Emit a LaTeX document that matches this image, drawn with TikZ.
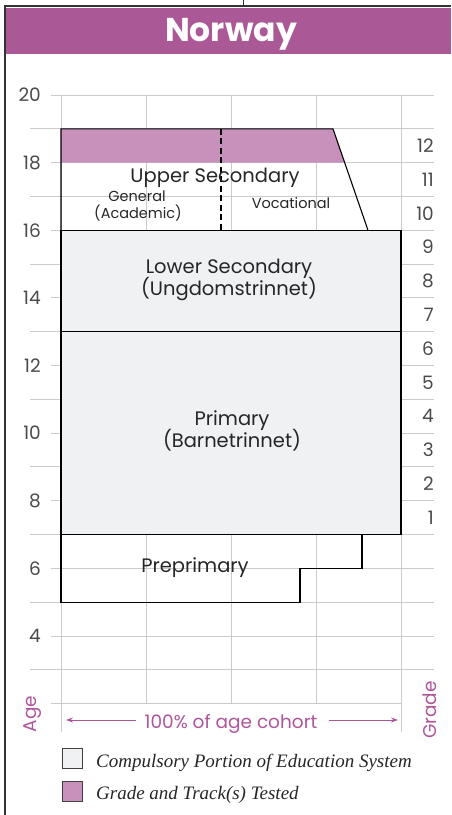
\documentclass[tikz,border=0pt]{standalone}
\usepackage{fontspec}
\setmainfont{Liberation Serif}
\newfontfamily\geo{Poppins}
\usetikzlibrary{arrows.meta}

\definecolor{hdr}{HTML}{AB5897}
\definecolor{tested}{HTML}{C891BC}
\definecolor{comp}{HTML}{F0F1F3}
\definecolor{gridc}{HTML}{CBCBCB}
\definecolor{numc}{HTML}{4A4A4A}
\definecolor{ptext}{HTML}{B0559B}
\definecolor{framec}{HTML}{333333}

\tikzset{
  gridline/.style={draw=gridc, line width=0.9pt},
  region/.style={draw=black, line width=1.1pt},
  numlabel/.style={anchor=east, inner sep=0pt, text=numc, font=\geo\fontsize{18.5}{18.5}\selectfont},
  stagelabel/.style={anchor=base, inner sep=0pt, text=black!85, font=\geo\fontsize{19.5}{19.5}\selectfont},
  tracklabel/.style={anchor=base, inner sep=0pt, text=black!85, font=\geo\fontsize{14.5}{14.5}\selectfont},
  axislabel/.style={inner sep=0pt, text=ptext, font=\geo\fontsize{18.5}{18.5}\selectfont},
  legbox/.style={draw=black!75, line width=0.9pt, minimum width=20pt, minimum height=20pt, inner sep=0pt},
  legtext/.style={anchor=base west, inner sep=0pt, text=black!85, font=\itshape\fontsize{19}{19}\selectfont},
  cohortarrow/.style={draw=ptext, line width=1pt, -{Stealth[length=7pt,width=5pt]}}
}

\begin{document}
\begin{tikzpicture}[x=1pt, y=1pt]
\useasboundingbox (0,0) rectangle (451,-815);

% page frame and title band
\fill[hdr] (6,-8) rectangle (451,-54);
\draw[framec, line width=2.5pt] (5,-815) -- (5,-6) -- (451,-6);
\draw[framec, line width=1pt] (243,0) -- (243,-6);
\node[anchor=base, inner sep=0pt, text=white, font=\geo\bfseries\fontsize{33}{33}\selectfont] (title) at (231,-41.5) {Norway};

% chart: x in pixels, y in years of age
\begin{scope}[y=33.8125pt, yshift=-771.25pt]
  % grid
  \foreach \a in {3,5,...,19} \draw[gridline] (30,\a) -- (434,\a);
  \foreach \a in {4,6,...,20} \draw[gridline] (51,\a) -- (434,\a);
  \draw[gridline] (51,2) -- (401,2);
  \foreach \x in {146,231,316} \draw[gridline] (\x,2) -- (\x,20);
  \foreach \x in {61,401} \draw[gridline] (\x,1.16) -- (\x,20);

  % age labels
  \foreach \a in {4,6,...,20} \node[numlabel] (age\a) at (41,\a) {\a};
  % grade labels
  \foreach \g in {1,...,12} \node[numlabel] (grade\g) at (434,\g+6.5) {\g};

  % upper secondary, tested band
  \fill[tested] (61,19) -- (333,19) -- (344.67,18) -- (61,18) -- cycle;
  \draw[region] (61,16) |- (333,19) -- (368,16);
  \draw[black, line width=1.1pt, dash pattern=on 6pt off 3.5pt] (221,19) -- (221,16);

  % lower secondary and primary (compulsory)
  \draw[region, fill=comp] (61,13) rectangle (401,16);
  \draw[region, fill=comp] (61,7) rectangle (401,13);

  % preprimary
  \draw[region] (61,7) -- (61,5) -- (300,5) -- (300,6) -- (362,6) -- (362,7);
\end{scope}

% stage labels
\node[stagelabel] (upper) at (215,-182) {Upper Secondary};
\node[tracklabel] (gen1) at (137,-201.5) {General};
\node[tracklabel] (gen2) at (138,-218) {(Academic)};
\node[tracklabel] (voc) at (291,-208) {Vocational};
\node[stagelabel] (lower1) at (229,-273) {Lower Secondary};
\node[stagelabel] (lower2) at (229,-295) {(Ungdomstrinnet)};
\node[stagelabel] (prim1) at (232,-425) {Primary};
\node[stagelabel] (prim2) at (232,-447) {(Barnetrinnet)};
\node[stagelabel] (prepri) at (195,-572.5) {Preprimary};

% axis captions
\node[axislabel, rotate=90] (agecap) at (33,-714) {Age};
\node[axislabel, rotate=90] (gradecap) at (430,-710) {Grade};
\node[axislabel, anchor=base] (cohort) at (231,-728) {100\% of age cohort};
\coordinate (cohortL) at (66,-720);
\coordinate (cohortR) at (398,-720);
\draw[cohortarrow] (cohort.west |- cohortL) ++(-8,0) -- (cohortL);
\draw[cohortarrow] (cohort.east |- cohortR) ++(11,0) -- (cohortR);

% legend
\node[legbox, fill=comp, anchor=north west] (leg1) at (62,-748) {};
\node[legtext] (legt1) at (96,-767.5) {Compulsory Portion of Education System};
\node[legbox, fill=tested, anchor=north west] (leg2) at (62,-781) {};
\node[legtext] (legt2) at (96,-799) {Grade and Track(s) Tested};
\end{tikzpicture}
\end{document}
